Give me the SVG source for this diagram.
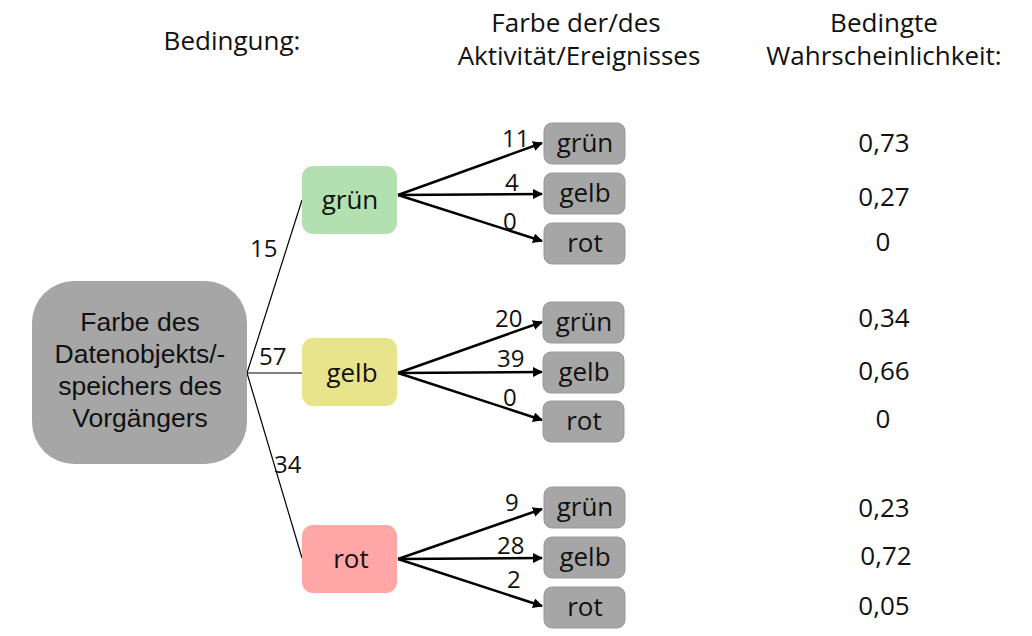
<svg xmlns="http://www.w3.org/2000/svg" width="1032" height="636" viewBox="0 0 1032 636">
<style>
.t{font-family:"Open Sans","Noto Sans",sans-serif;font-size:26px;fill:#111;text-anchor:middle}
.lt{font-family:"Open Sans","Noto Sans",sans-serif;font-size:26px;fill:#111;text-anchor:middle}
.n{font-family:"Open Sans","Noto Sans",sans-serif;font-size:24px;fill:#111}
.p{font-family:"Open Sans","Noto Sans",sans-serif;font-size:26px;fill:#111;text-anchor:middle}
.r{font-family:"Liberation Sans",Arial,sans-serif;font-size:26.5px;fill:#111;text-anchor:middle}
.leaf{fill:#a6a6a6;stroke:#999;stroke-width:1}
.c{stroke:#000;stroke-width:2.5;fill:none;marker-end:url(#ah)}
.e{stroke:#000;stroke-width:1.2;fill:none}
</style>
<defs>
<marker id="ah" viewBox="0 0 10 10" refX="9" refY="5" markerWidth="4" markerHeight="4" orient="auto" markerUnits="strokeWidth">
<path d="M0,0 L10,5 L0,10 z" fill="#000"/>
</marker>
</defs>
<rect width="1032" height="636" fill="#fff"/>
<g id="headers">
<text class="t" x="232" y="50">Bedingung:</text>
<text class="t" x="576" y="32">Farbe der/des</text>
<text class="t" x="579" y="65">Aktivität/Ereignisses</text>
<text class="t" x="884" y="32">Bedingte</text>
<text class="t" x="884" y="65">Wahrscheinlichkeit:</text>
</g>
<g id="connectors">
<line class="e" x1="247" y1="373" x2="302" y2="200"/>
<line class="e" x1="247" y1="373" x2="302" y2="373"/>
<line class="e" x1="247" y1="373" x2="302" y2="558"/>
<line class="c" x1="398" y1="195" x2="542" y2="143"/>
<line class="c" x1="398" y1="195" x2="542" y2="194"/>
<line class="c" x1="398" y1="195" x2="542" y2="241"/>
<line class="c" x1="398" y1="373" x2="542" y2="322"/>
<line class="c" x1="398" y1="373" x2="542" y2="372"/>
<line class="c" x1="398" y1="373" x2="542" y2="420"/>
<line class="c" x1="398" y1="559" x2="542" y2="509"/>
<line class="c" x1="398" y1="559" x2="542" y2="558"/>
<line class="c" x1="398" y1="559" x2="542" y2="606"/>
<text class="n" x="250" y="257">15</text>
<text class="n" x="259" y="365">57</text>
<text class="n" x="274" y="473">34</text>
<text class="n" x="502" y="147">11</text>
<text class="n" x="505" y="191">4</text>
<text class="n" x="503" y="230">0</text>
<text class="n" x="495" y="327">20</text>
<text class="n" x="497" y="367">39</text>
<text class="n" x="503" y="406">0</text>
<text class="n" x="505" y="511">9</text>
<text class="n" x="497" y="554">28</text>
<text class="n" x="507" y="588">2</text>
</g>
<g id="root">
<rect x="32" y="281" width="215" height="183" rx="42" fill="#a6a6a6"/>
<text class="r" x="140" y="331">Farbe des</text>
<text class="r" x="140" y="363">Datenobjekts/-</text>
<text class="r" x="140" y="395">speichers des</text>
<text class="r" x="140" y="427">Vorgängers</text>
</g>
<g id="cond-gruen">
<rect x="302" y="166" width="95" height="68" rx="11" fill="#b2e0b0"/>
<text class="lt" x="350" y="209">grün</text>
</g>
<g id="cond-gelb">
<rect x="302" y="338" width="95" height="68" rx="11" fill="#e8e48b"/>
<text class="lt" x="352" y="382">gelb</text>
</g>
<g id="cond-rot">
<rect x="302" y="525" width="95" height="68" rx="11" fill="#ffa6a6"/>
<text class="lt" x="351" y="568">rot</text>
</g>
<g id="leaf-gruen-gruen"><rect class="leaf" x="544" y="123" width="81" height="41" rx="8"/><text class="lt" x="585" y="152">grün</text></g>
<g id="leaf-gruen-gelb"><rect class="leaf" x="544" y="173" width="81" height="41" rx="8"/><text class="lt" x="585" y="202">gelb</text></g>
<g id="leaf-gruen-rot"><rect class="leaf" x="544" y="223" width="81" height="41" rx="8"/><text class="lt" x="585" y="252">rot</text></g>
<g id="leaf-gelb-gruen"><rect class="leaf" x="543" y="302" width="81" height="41" rx="8"/><text class="lt" x="584" y="331">grün</text></g>
<g id="leaf-gelb-gelb"><rect class="leaf" x="543" y="352" width="81" height="41" rx="8"/><text class="lt" x="584" y="381">gelb</text></g>
<g id="leaf-gelb-rot"><rect class="leaf" x="543" y="401" width="81" height="41" rx="8"/><text class="lt" x="584" y="430">rot</text></g>
<g id="leaf-rot-gruen"><rect class="leaf" x="544" y="487" width="81" height="41" rx="8"/><text class="lt" x="585" y="516">grün</text></g>
<g id="leaf-rot-gelb"><rect class="leaf" x="544" y="537" width="81" height="41" rx="8"/><text class="lt" x="585" y="566">gelb</text></g>
<g id="leaf-rot-rot"><rect class="leaf" x="544" y="587" width="81" height="41" rx="8"/><text class="lt" x="585" y="616">rot</text></g>
<g id="probabilities">
<text class="p" x="884" y="152">0,73</text>
<text class="p" x="884" y="206">0,27</text>
<text class="p" x="883" y="251">0</text>
<text class="p" x="884" y="327">0,34</text>
<text class="p" x="884" y="380">0,66</text>
<text class="p" x="883" y="428">0</text>
<text class="p" x="884" y="517">0,23</text>
<text class="p" x="886" y="565">0,72</text>
<text class="p" x="884" y="615">0,05</text>
</g>
</svg>
